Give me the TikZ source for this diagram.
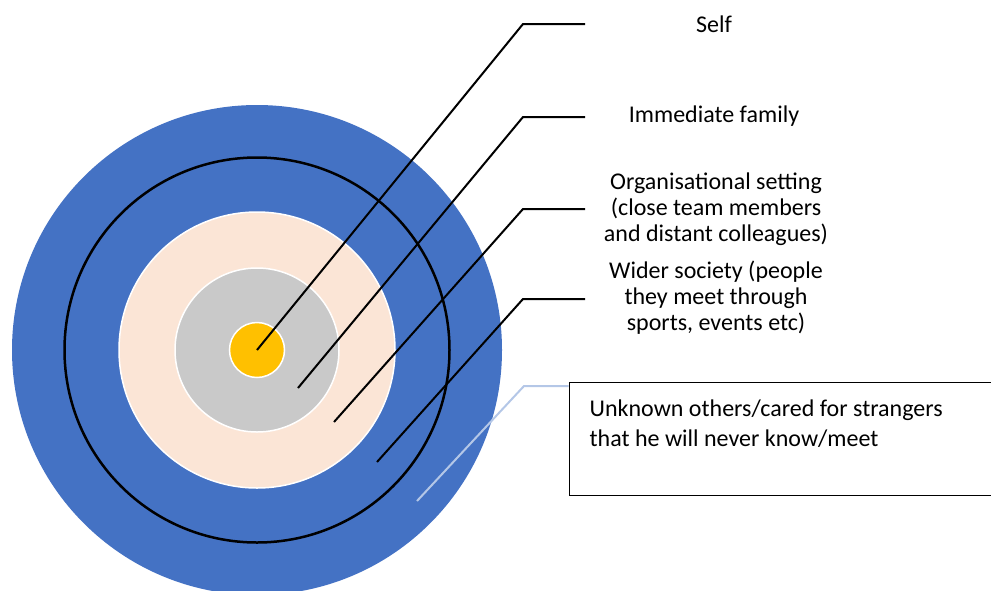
\documentclass[tikz,border=0pt]{standalone}
\usepackage{fontspec}
\setmainfont{Carlito}
\begin{document}
\begin{tikzpicture}[x=1pt,y=-1pt,
  ring/.style={draw=white,line width=1.5pt},
  leader/.style={draw=black,line width=2pt},
  softleader/.style={draw=paleblue,line width=2pt},
  caption/.style={font=\fontsize{24}{26}\selectfont,align=center,inner sep=0pt},
  framed/.style={draw=black,line width=1pt,minimum width=430pt,minimum height=113pt,inner sep=0pt}]
\definecolor{ringblue}{HTML}{4472C4}
\definecolor{ringpeach}{HTML}{FBE5D6}
\definecolor{ringgray}{HTML}{C9C9C9}
\definecolor{ringgold}{HTML}{FFC000}
\definecolor{paleblue}{HTML}{B4C7E7}
\useasboundingbox (0,0) rectangle (991,590);
\begin{scope}
\clip (0,0) rectangle (991,590);
% concentric rings
\fill[ringblue] (257,350) circle (245);
\draw[black,line width=2.5pt] (257,350) circle (192.5);
\filldraw[ring,fill=ringpeach] (257,350) circle (138);
\filldraw[ring,fill=ringgray] (257,350) circle (82);
\filldraw[ring,fill=ringgold] (257,350) circle (27.5);
% framed caption box, running past the right edge
\node[framed] (others) at (784,438.5) {};
\end{scope}
% anchor points inside the rings
\coordinate (pself) at (257,350);
\coordinate (pfam) at (298,388);
\coordinate (porg) at (334,422);
\coordinate (psoc) at (377,462);
\coordinate (poth) at (417,501);
% label ends of the leaders
\coordinate (eself) at (585,24);
\coordinate (efam) at (585,117);
\coordinate (eorg) at (585,209);
\coordinate (esoc) at (585,299);
% labels
\node[caption] (lself) at (714,24) {Self};
\node[caption] (lfam) at (714,116) {Immediate family};
\node[caption] (lorg) at (716,209) {Organisational setting\\(close team members\\and distant colleagues)};
\node[caption] (lsoc) at (716,298) {Wider society (people\\they meet through\\sports, events etc)};
\node[font=\fontsize{24}{30.5}\selectfont,align=left,anchor=north west,inner sep=0pt]
  (lothers) at ([xshift=21pt,yshift=-18pt]others.north west)
  {Unknown others/cared for strangers\\that he will never know/meet};
% leaders
\draw[leader] (pself) -- (523,24) -- (eself);
\draw[leader] (pfam) -- (523,117) -- (efam);
\draw[leader] (porg) -- (523,209) -- (eorg);
\draw[leader] (psoc) -- (523,299) -- (esoc);
\draw[softleader] (poth) -- (524,386) -- (others.west |- 0,386);
\end{tikzpicture}
\end{document}
